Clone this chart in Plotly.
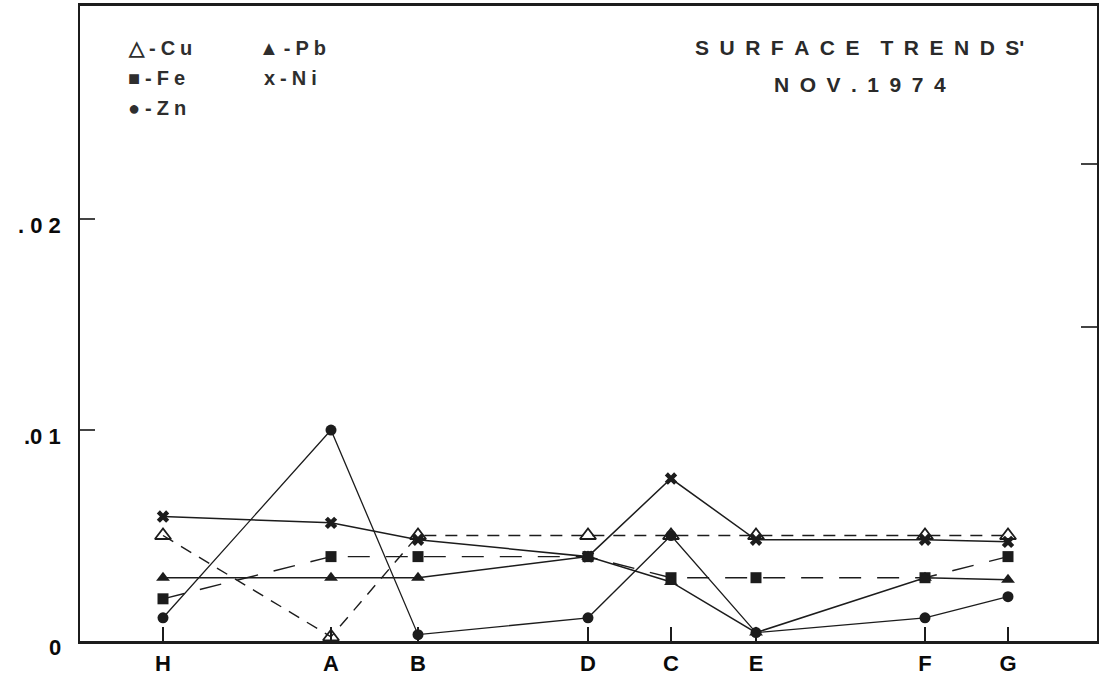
import plotly.graph_objects as go

# Sampling stations along the survey line (relative distance units)
stations = ["H", "A", "B", "D", "C", "E", "F", "G"]
station_pos = [0.0, 16.8, 25.5, 42.5, 50.8, 59.3, 76.2, 84.5]

# Surface concentrations, November 1974
cu = [0.0050, 0.0002, 0.0050, 0.0050, 0.0050, 0.0050, 0.0050, 0.0050]
fe = [0.0020, 0.0040, 0.0040, 0.0040, 0.0030, 0.0030, 0.0030, 0.0040]
zn = [0.0011, 0.0100, 0.0003, 0.0011, 0.0050, 0.0004, 0.0011, 0.0021]
pb = [0.0030, 0.0030, 0.0030, 0.0040, 0.0028, 0.0004, 0.0030, 0.0029]
ni = [0.0059, 0.0056, 0.0048, 0.0040, 0.0077, 0.0048, 0.0048, 0.0047]

y_ticks = [0, 0.01, 0.02]
y_ticktext = ["0", ".0 1", ". 0 2"]
right_ticks = [0.0149, 0.0226]

ink = "#1c1c1c"
FONT = "Liberation Sans, Arial, sans-serif"

fig = go.Figure()

def add_series(name, values, symbol, size, dash, width, marker_line=0.0):
    fig.add_trace(go.Scatter(
        x=station_pos, y=values, name=name, mode="lines+markers",
        line=dict(color=ink, width=width, dash=dash),
        marker=dict(symbol=symbol, size=size, color=ink,
                    line=dict(color=ink, width=marker_line)),
        showlegend=False,
    ))

add_series("Cu", cu, "triangle-up-open", 14, "12px,9px", 1.4, 1.8)
add_series("Fe", fe, "square", 11, "22px,16px", 1.4)
add_series("Pb", pb, "triangle-up", 12, "solid", 1.5)
add_series("Ni", ni, "x", 11, "solid", 1.5)
add_series("Zn", zn, "circle", 11, "solid", 1.3)

# Dummy trace so the right-hand axis is drawn
fig.add_trace(go.Scatter(x=[None], y=[None], yaxis="y2", showlegend=False,
                         hoverinfo="skip"))

fig.update_layout(
    width=1101, height=680,
    margin=dict(l=80, r=4, t=6, b=39, autoexpand=False),
    paper_bgcolor="white", plot_bgcolor="white",
    xaxis=dict(
        range=[-8.3, 93.4], tickvals=station_pos,
        ticktext=[f"<b>{s}</b>" for s in stations],
        ticks="inside", ticklen=14, tickwidth=2, tickcolor=ink,
        showline=True, linecolor=ink, linewidth=2.5, mirror=True,
        showgrid=False, zeroline=False, ticklabelstandoff=1,
        automargin=False,
        tickfont=dict(family=FONT, size=22, color="#0a0a0a"),
    ),
    yaxis=dict(
        range=[0, 0.0301], tickvals=y_ticks, showticklabels=False,
        ticks="inside", ticklen=15, tickwidth=2, tickcolor="#444444",
        showline=True, linecolor=ink, linewidth=2, mirror=True,
        showgrid=False, zeroline=False, automargin=False,
    ),
    yaxis2=dict(
        range=[0, 0.0301], overlaying="y", side="right",
        tickvals=right_ticks, showticklabels=False,
        ticks="inside", ticklen=16, tickwidth=2, tickcolor="#444444",
        showline=False, showgrid=False, zeroline=False, automargin=False,
    ),
    font=dict(family=FONT, color="#111111"),
)

# Value labels on the left axis, set slightly below their tick marks
for val, txt in zip(y_ticks, y_ticktext):
    fig.add_annotation(text=f"<b>{txt}</b>", xref="paper", yref="y",
                       x=0, y=val, xshift=-17, yshift=-6,
                       xanchor="right", yanchor="middle", showarrow=False,
                       font=dict(family=FONT, size=22, color="#0a0a0a"))

SP = "\u2005"
legend_font = dict(family=FONT, size=20, color="#2e2e2e")
legend_items = [
    (f"△{SP}-{SP}C{SP}u", 126, 48), (f"▲{SP}-{SP}P{SP}b", 257, 48),
    (f"■{SP}-{SP}F{SP}e", 126, 78), (f"x{SP}-{SP}N{SP}i", 262, 78),
    (f"●{SP}-{SP}Z{SP}n", 126, 108),
]
for text, px, py in legend_items:
    fig.add_annotation(text=f"<b>{text}</b>", xref="paper", yref="paper",
                       x=(px - 80) / 1017, y=1 - (py - 6) / 635,
                       xanchor="left", yanchor="middle", showarrow=False,
                       font=legend_font)

EN = "\u2002"
title_font = dict(family=FONT, size=21, color="#2a2a2a")
line1 = EN.join("SURFACE") + EN * 2 + EN.join("TRENDS") + "'"
line2 = EN.join("NOV.") + EN + EN.join("1974")
fig.add_annotation(text=f"<b>{line1}</b>", xref="paper", yref="paper",
                   x=(693 - 80) / 1017, y=1 - (48 - 6) / 635,
                   xanchor="left", yanchor="middle", showarrow=False,
                   font=title_font)
fig.add_annotation(text=f"<b>{line2}</b>", xref="paper", yref="paper",
                   x=(772 - 80) / 1017, y=1 - (85 - 6) / 635,
                   xanchor="left", yanchor="middle", showarrow=False,
                   font=title_font)

fig.write_html("out.html")
